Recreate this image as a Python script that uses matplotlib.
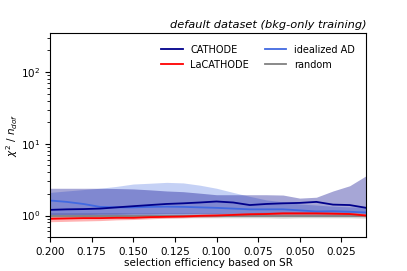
import numpy as np
import matplotlib
matplotlib.use("Agg")
import matplotlib.pyplot as plt

# selection efficiency grid (SR)
eff = [0.20, 0.19, 0.18, 0.17, 0.16, 0.15, 0.14, 0.13, 0.12, 0.11,
       0.10, 0.09, 0.08, 0.07, 0.06, 0.05, 0.04, 0.03, 0.02, 0.01]

# chi2/ndof medians and bands
cathode = [1.20, 1.22, 1.23, 1.25, 1.30, 1.35, 1.40, 1.45, 1.48, 1.52,
           1.57, 1.52, 1.40, 1.45, 1.48, 1.50, 1.55, 1.42, 1.40, 1.28]
cathode_lo = [1.02, 1.03, 1.03, 1.04, 1.04, 1.05, 1.05, 1.06, 1.06, 1.07,
              1.07, 1.08, 1.08, 1.08, 1.09, 1.09, 1.10, 1.10, 1.10, 1.08]
cathode_hi = [2.40, 2.40, 2.40, 2.40, 2.38, 2.35, 2.28, 2.20, 2.15, 2.05,
              1.95, 1.95, 1.95, 1.95, 1.93, 1.75, 1.80, 2.20, 2.60, 3.60]

lacathode = [0.90, 0.91, 0.92, 0.92, 0.93, 0.93, 0.95, 0.96, 0.97, 0.99,
             1.00, 1.02, 1.04, 1.05, 1.07, 1.07, 1.07, 1.06, 1.05, 1.00]
lacathode_lo = [0.82, 0.83, 0.84, 0.85, 0.87, 0.88, 0.90, 0.92, 0.93, 0.95,
                0.96, 0.98, 1.00, 1.01, 1.02, 1.02, 1.02, 1.01, 1.00, 0.96]
lacathode_hi = [0.97, 0.98, 0.99, 0.99, 1.00, 1.00, 1.01, 1.02, 1.03, 1.05,
                1.06, 1.08, 1.10, 1.11, 1.13, 1.13, 1.13, 1.12, 1.11, 1.06]

ideal = [1.62, 1.55, 1.45, 1.32, 1.30, 1.30, 1.32, 1.33, 1.32, 1.30,
         1.28, 1.25, 1.22, 1.22, 1.22, 1.18, 1.14, 1.15, 1.13, 1.10]
ideal_lo = [1.02, 1.02, 1.01, 1.00, 1.00, 1.00, 1.00, 1.00, 1.00, 1.00,
            1.00, 1.00, 1.00, 1.00, 1.00, 1.00, 0.99, 0.99, 0.99, 0.98]
ideal_hi = [2.10, 2.20, 2.30, 2.40, 2.55, 2.75, 2.82, 2.90, 2.85, 2.65,
            2.40, 2.10, 1.85, 1.65, 1.55, 1.45, 1.40, 1.35, 1.32, 1.30]

rnd = [1.00, 1.00, 1.00, 1.00, 1.00, 1.00, 1.00, 1.00, 1.00, 1.00,
       1.00, 1.00, 1.00, 1.00, 1.00, 1.00, 1.00, 1.00, 1.00, 1.00]
rnd_lo = [0.92, 0.92, 0.92, 0.93, 0.93, 0.93, 0.93, 0.93, 0.93, 0.93,
          0.93, 0.93, 0.93, 0.93, 0.92, 0.93, 0.93, 0.93, 0.93, 0.92]
rnd_hi = [1.10, 1.10, 1.10, 1.10, 1.10, 1.09, 1.09, 1.09, 1.09, 1.09,
          1.09, 1.09, 1.09, 1.10, 1.10, 1.10, 1.10, 1.10, 1.11, 1.12]

fig, ax = plt.subplots(figsize=(4.07, 2.71), dpi=100)
fig.subplots_adjust(left=0.123, right=0.9, top=0.878, bottom=0.125)

series = [
    ("random", rnd, rnd_lo, rnd_hi, "grey", 0.35),
    ("idealized AD", ideal, ideal_lo, ideal_hi, "royalblue", 0.3),
    ("CATHODE", cathode, cathode_lo, cathode_hi, "darkblue", 0.35),
    ("LaCATHODE", lacathode, lacathode_lo, lacathode_hi, "red", 0.3),
]
handles = {}
for name, med, lo, hi, col, a in series:
    ax.fill_between(eff, lo, hi, color=col, alpha=a, lw=0)
    h, = ax.plot(eff, med, color=col, lw=1.3)
    handles[name] = h

order = ["CATHODE", "LaCATHODE", "idealized AD", "random"]
ax.legend([handles[k] for k in order], order, ncol=2, frameon=False,
          fontsize=7, loc="upper right", handlelength=2.2, columnspacing=1.6,
          borderaxespad=0.8, labelspacing=0.5)

ax.set_yscale("log")
ax.set_ylim(0.5, 350)
ax.set_xlim(0.2, 0.01)
ax.set_xticks([0.2, 0.175, 0.15, 0.125, 0.1, 0.075, 0.05, 0.025])
ax.set_xticklabels(["0.200", "0.175", "0.150", "0.125", "0.100", "0.075", "0.050", "0.025"])
ax.tick_params(labelsize=7.5)
ax.set_xlabel("selection efficiency based on SR", fontsize=7.5, labelpad=1)
ax.set_ylabel(r"$\chi^2$ / $n_{dof}$", fontsize=7.5)
ax.yaxis.set_label_coords(-0.095, 0.5)
ax.set_title("default dataset (bkg-only training)", loc="right",
             fontstyle="italic", fontsize=8.2, pad=4)

fig.savefig("out.png", dpi=100)
